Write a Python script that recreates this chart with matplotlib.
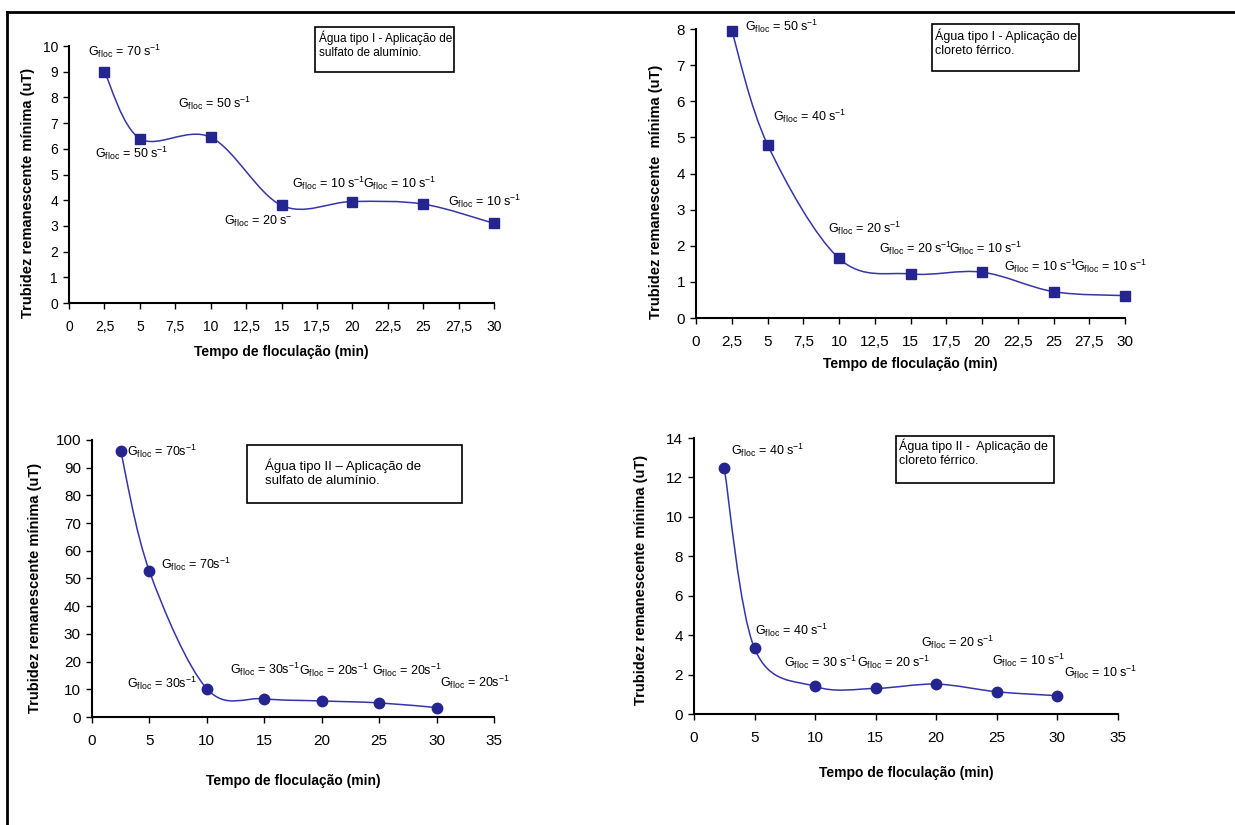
import numpy as np
import matplotlib
matplotlib.use("Agg")
import matplotlib.pyplot as plt
from matplotlib.path import Path
from matplotlib.patches import PathPatch, Rectangle
from matplotlib.lines import Line2D

plt.rcParams['font.family'] = ['Liberation Sans', 'DejaVu Sans']
plt.rcParams['mathtext.fontset'] = 'custom'
plt.rcParams['mathtext.rm'] = 'Liberation Sans'
plt.rcParams['mathtext.it'] = 'Liberation Sans'
plt.rcParams['mathtext.bf'] = 'Liberation Sans:bold'
plt.rcParams['mathtext.default'] = 'rm'

# dados (tempo de floculação em min, turbidez remanescente mínima em uT)
tempo = [2.5, 5, 10, 15, 20, 25, 30]
turb_sulfato_I = [9.0, 6.4, 6.45, 3.8, 3.95, 3.85, 3.1]
turb_cloreto_I = [7.95, 4.8, 1.65, 1.22, 1.27, 0.73, 0.62]
turb_sulfato_II = [96, 52.6, 10.2, 6.6, 5.8, 5.1, 3.4]
turb_cloreto_II = [12.48, 3.33, 1.40, 1.30, 1.52, 1.13, 0.93]

g_sulfato_I = ['70 s$^{-1}$', '50 s$^{-1}$', '50 s$^{-1}$', '20 s$^{-}$', '10 s$^{-1}$', '10 s$^{-1}$', '10 s$^{-1}$']
g_cloreto_I = ['50 s$^{-1}$', '40 s$^{-1}$', '20 s$^{-1}$', '20 s$^{-1}$', '10 s$^{-1}$', '10 s$^{-1}$', '10 s$^{-1}$']
g_sulfato_II = ['70s$^{-1}$', '70s$^{-1}$', '30s$^{-1}$', '30s$^{-1}$', '20s$^{-1}$', '20s$^{-1}$', '20s$^{-1}$']
g_cloreto_II = ['40 s$^{-1}$', '40 s$^{-1}$', '30 s$^{-1}$', '20 s$^{-1}$', '20 s$^{-1}$', '10 s$^{-1}$', '10 s$^{-1}$']

ticks_top = [0, 2.5, 5, 7.5, 10, 12.5, 15, 17.5, 20, 22.5, 25, 27.5, 30]
ticks_top_lbl = ['0', '2,5', '5', '7,5', '10', '12,5', '15', '17,5', '20', '22,5', '25', '27,5', '30']

COR_LINHA = '#3535a8'
COR_MARCA = '#252590'


def curva_suave(x, y):
    # curva suavizada tipo Excel (Catmull-Rom -> Bezier)
    p = np.column_stack([x, y]).astype(float)
    n = len(p)
    verts = [p[0]]
    codes = [Path.MOVETO]
    for i in range(n - 1):
        p0 = p[i - 1] if i > 0 else p[i]
        p3 = p[i + 2] if i + 2 < n else p[i + 1]
        c1 = p[i] + (p[i + 1] - p0) / 6
        c2 = p[i + 1] - (p3 - p[i]) / 6
        verts += [c1, c2, p[i + 1]]
        codes += [Path.CURVE4] * 3
    return PathPatch(Path(verts, codes), fill=False, ec=COR_LINHA, lw=1.1, zorder=2)


def painel(rect, y, marker, ms, ylim, yticks, xlim, xticks, xtick_lbl, g_lbl, offsets,
           ylabel, tick_fs, xlabel_pad, ylabel_pos):
    ax = fig.add_axes(rect)
    ax.add_patch(curva_suave(tempo, y))
    ax.plot(tempo, y, ls='none', marker=marker, ms=ms, color=COR_MARCA, zorder=3, clip_on=False)
    ax.set_xlim(*xlim)
    ax.set_ylim(*ylim)
    ax.set_xticks(xticks)
    ax.set_xticklabels(xtick_lbl)
    ax.set_yticks(yticks)
    for s in ['top', 'right']:
        ax.spines[s].set_visible(False)
    for s in ['left', 'bottom']:
        ax.spines[s].set_linewidth(1.5)
    ax.tick_params(direction='out', length=4, width=1, labelsize=tick_fs, pad=4)
    ax.tick_params(axis='x', pad=8)
    ax.set_xlabel('Tempo de floculação (min)', fontsize=10, fontweight='bold', labelpad=xlabel_pad)
    ax.set_ylabel(ylabel, fontsize=10.5, fontweight='bold')
    ax.yaxis.set_label_coords(*ylabel_pos)
    for xi, yi, g, (dx, dy) in zip(tempo, y, g_lbl, offsets):
        ax.annotate('G$_{floc}$ = ' + g, (xi, yi), xytext=(dx, dy), textcoords='offset pixels',
                    ha='center', va='center', fontsize=9, annotation_clip=False)
    return ax


fig = plt.figure(figsize=(12.35, 8.25), dpi=100)

painel([0.0559, 0.6327, 0.3441, 0.3115], turb_sulfato_I, 's', 7, (0, 10), range(0, 11),
       (0, 30), ticks_top, ticks_top_lbl, g_sulfato_I,
       [(20, 20), (-8, -15), (4, 34), (-23, -16), (-24, 18), (-23, 21), (-9, 22)],
       'Trubidez remanescente mínima (uT)', 10, 8, (-0.081, 0.43))

painel([0.5636, 0.6145, 0.3474, 0.3503], turb_cloreto_I, 's', 7, (0, 8), range(0, 9),
       (0, 30), ticks_top, ticks_top_lbl, g_cloreto_I,
       [(50, 4), (42, 28), (26, 30), (5, 26), (4, 24), (-13, 25), (-14, 29)],
       'Trubidez remanescente  mínima (uT)', 11, 6, (-0.076, 0.436))

painel([0.0745, 0.1309, 0.3255, 0.3358], turb_sulfato_II, 'o', 7.5, (0, 100), range(0, 101, 10),
       (0, 35), range(0, 36, 5), [str(v) for v in range(0, 36, 5)], g_sulfato_II,
       [(41, 0), (47, 7), (-45, 5), (1, 29), (12, 31), (28, 33), (38, 25)],
       'Trubidez remanescente mínima (uT)', 11, 19, (-0.124, 0.467))

painel([0.5619, 0.1345, 0.3433, 0.3345], turb_cloreto_II, 'o', 7.5, (0, 14), range(0, 15, 2),
       (0, 35), range(0, 36, 5), [str(v) for v in range(0, 36, 5)], g_cloreto_II,
       [(43, 18), (37, 18), (6, 24), (18, 26), (21, 42), (32, 31), (43, 23)],
       'Trubidez remanescente mínima (uT)', 11, 15, (-0.108, 0.486))

# caixas de texto
caixas = [
    ((0.2551, 0.9127, 0.1126, 0.0545), (0.2583, 0.9636), 8.5, 'Água tipo I - Aplicação de\nsulfato de alumínio.'),
    ((0.7547, 0.9139, 0.1190, 0.0570), (0.7570, 0.9660), 9, 'Água tipo I - Aplicação de\ncloreto férrico.'),
    ((0.2000, 0.3903, 0.1741, 0.0703), (0.2146, 0.4448), 9.5, 'Água tipo II – Aplicação de\nsulfato de alumínio.'),
    ((0.7255, 0.4145, 0.1279, 0.0570), (0.7280, 0.4690), 9, 'Água tipo II -  Aplicação de\ncloreto férrico.'),
]
for (x0, y0, w, h), (tx, ty), fs, txt in caixas:
    fig.add_artist(Rectangle((x0, y0), w, h, transform=fig.transFigure, fill=True,
                             fc='white', ec='black', lw=1.2))
    fig.text(tx, ty, txt, ha='left', va='top', fontsize=fs, linespacing=1.3)

# moldura externa
fig.add_artist(Line2D([0.0057, 1.0], [0.9855, 0.9855], color='black', lw=2, transform=fig.transFigure))
fig.add_artist(Line2D([0.0057, 0.0057], [0.0, 0.9855], color='black', lw=2, transform=fig.transFigure))

fig.savefig('out.png', dpi=100)
